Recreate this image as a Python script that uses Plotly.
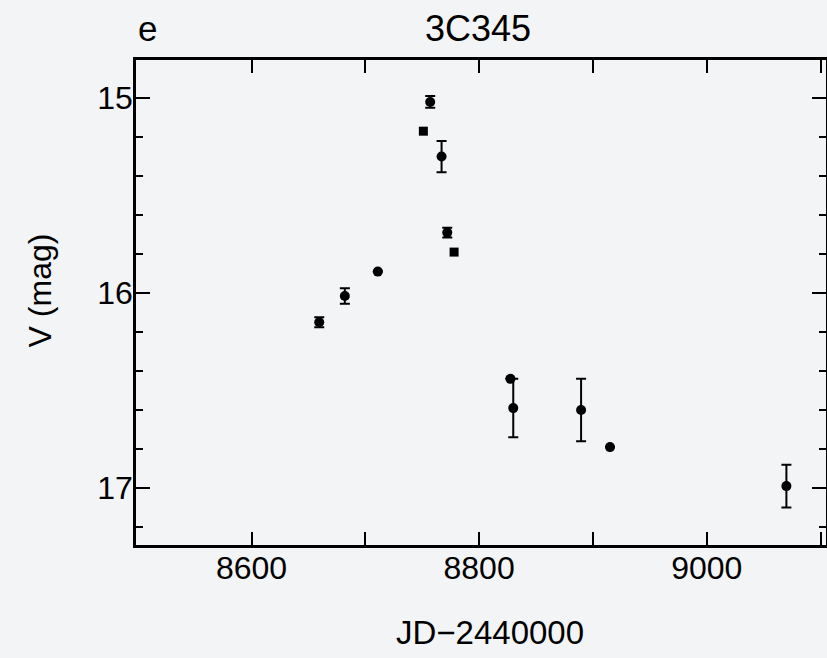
import plotly.graph_objects as go

# ---- data (JD-2440000, V magnitude, error) ----
circ_jd  = [8659.5, 8682, 8711, 8757, 8767, 8772, 8827.5, 8830, 8889.6, 8915, 9070]
circ_v   = [16.15, 16.015, 15.89, 15.02, 15.30, 15.69, 16.44, 16.59, 16.60, 16.79, 16.99]
circ_err = [0.026, 0.04, 0.0, 0.03, 0.08, 0.025, 0.0, 0.15, 0.16, 0.0, 0.11]

sq_jd = [8751, 8778]
sq_v  = [15.17, 15.79]

x_tickvals = [8600, 8700, 8800, 8900, 9000, 9100]
x_ticktext = ["8600", "", "8800", "", "9000", ""]
y_tickvals = [15, 16, 17]
y_ticktext = ["15", "16", "17"]

title_text = "3C345"
panel_text = "e"
x_title = "JD\u22122440000"
y_title = "V (mag)"

FONT = "Liberation Sans, Arial, Helvetica, sans-serif"
BG = "#f3f4f6"

fig = go.Figure()
fig.add_trace(go.Scatter(
    x=circ_jd, y=circ_v, mode="markers",
    marker=dict(symbol="circle", size=10, color="black"),
    error_y=dict(type="data", array=circ_err, visible=True,
                 width=5, thickness=2, color="black"),
    showlegend=False, hoverinfo="skip"))
fig.add_trace(go.Scatter(
    x=sq_jd, y=sq_v, mode="markers",
    marker=dict(symbol="square", size=9, color="black"),
    showlegend=False, hoverinfo="skip"))

# figure is 2px wider than the window: the right frame line falls just off-screen
W, H = 829, 658
L, R, T, B = 136, 0, 60, 113
pw, ph = W - L - R, H - T - B

def px(xp):
    return (xp - L) / pw

def py(yp):
    return (H - B - yp) / ph

fig.update_layout(
    width=W, height=H,
    margin=dict(l=L, r=R, t=T, b=B, pad=0),
    paper_bgcolor=BG, plot_bgcolor=BG,
    font=dict(family=FONT, size=32, color="black"),
    xaxis=dict(
        range=[8498.5, 9104.8], showgrid=False, zeroline=False,
        showline=True, linecolor="black", linewidth=2.5, mirror="ticks",
        ticks="inside", ticklen=13, tickwidth=2, tickcolor="black",
        tickmode="array", tickvals=x_tickvals, ticktext=x_ticktext,
        ticklabelstandoff=-7,
        tickfont=dict(family=FONT, size=32, color="black"),
    ),
    yaxis=dict(
        range=[17.292, 14.805], showgrid=False, zeroline=False,
        showline=True, linecolor="black", linewidth=2.5, mirror="ticks",
        ticks="inside", ticklen=14, tickwidth=2, tickcolor="black",
        tickmode="array", tickvals=y_tickvals, ticktext=y_ticktext,
        ticklabelstandoff=-6,
        minor=dict(dtick=0.2, tick0=15, ticks="inside", ticklen=7,
                   tickwidth=2, tickcolor="black"),
        tickfont=dict(family=FONT, size=32, color="black"),
    ),
    annotations=[
        dict(text=title_text, xref="paper", yref="paper", x=px(479), y=py(28),
             xanchor="center", yanchor="middle", showarrow=False,
             font=dict(family=FONT, size=36, color="black")),
        dict(text=panel_text, xref="paper", yref="paper", x=px(148), y=py(28),
             xanchor="center", yanchor="middle", showarrow=False,
             font=dict(family=FONT, size=35, color="black")),
        dict(text=x_title, xref="paper", yref="paper", x=px(492), y=py(632),
             xanchor="center", yanchor="middle", showarrow=False,
             font=dict(family=FONT, size=33, color="black")),
        dict(text=y_title, xref="paper", yref="paper", x=px(40), y=py(290),
             xanchor="center", yanchor="middle", showarrow=False, textangle=-90,
             font=dict(family=FONT, size=32, color="black")),
    ],
)

fig.write_html(
    "out.html",
    config={"displayModeBar": False},
    post_script=("document.body.style.margin='0';"
                 "document.body.style.overflow='hidden';"
                 "document.documentElement.style.overflow='hidden';"
                 "document.body.style.background='" + BG + "';"),
)
